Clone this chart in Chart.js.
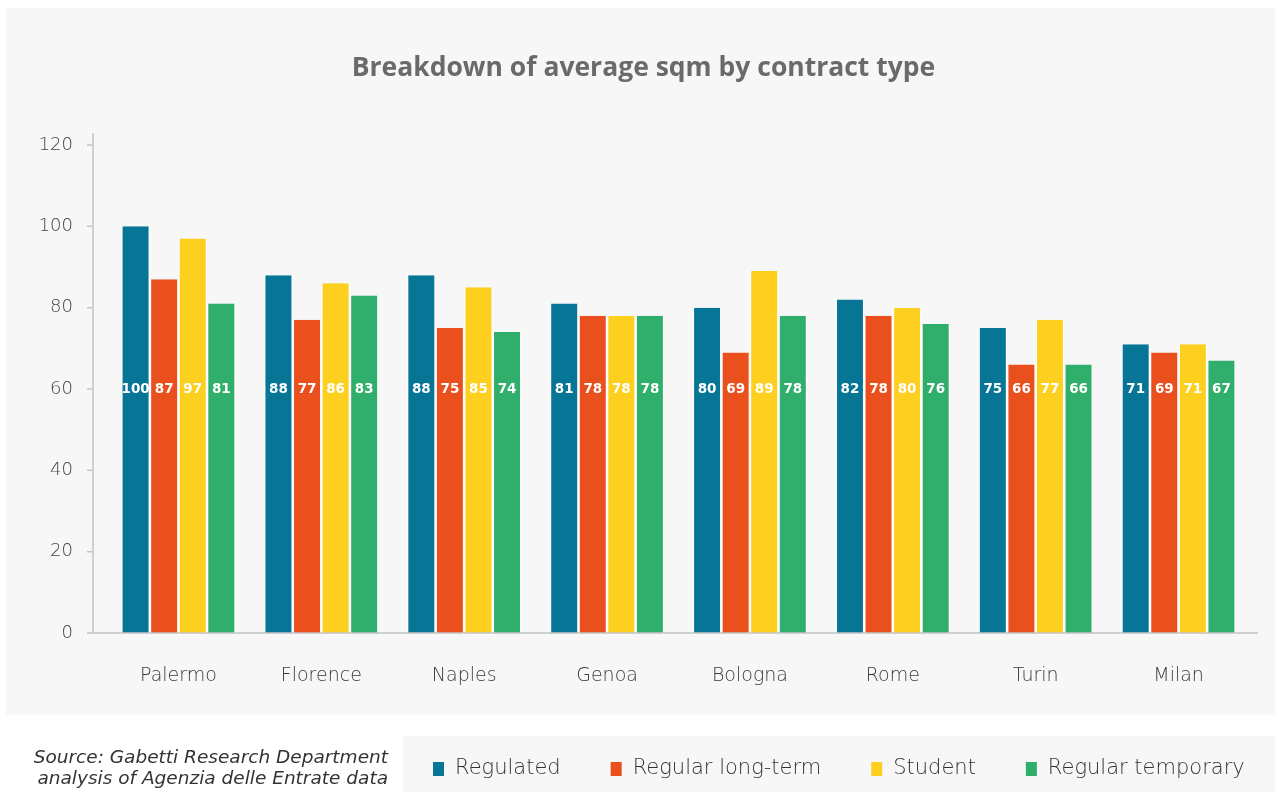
<!DOCTYPE html>
<html>
<head>
<meta charset="utf-8">
<title>Breakdown of average sqm by contract type</title>
<script src="https://cdn.jsdelivr.net/npm/chart.js@4.4.1/dist/chart.umd.min.js"></script>
<style>
  html, body { margin: 0; padding: 0; background: #fff; }
  #wrap { width: 1275px; height: 792px; }
</style>
</head>
<body>
<div id="wrap"><canvas id="myChart" width="1275" height="792"></canvas></div>
<script>
// cities and average sqm per contract type
const cities = ['Palermo', 'Florence', 'Naples', 'Genoa', 'Bologna', 'Rome', 'Turin', 'Milan'];
const regulated = [100, 88, 88, 81, 80, 82, 75, 71];
const longTerm = [87, 77, 75, 78, 69, 78, 66, 69];
const student = [97, 86, 85, 78, 89, 80, 77, 71];
const temporary = [81, 83, 74, 78, 78, 76, 66, 67];
const yTicks = [0, 20, 40, 60, 80, 100, 120];
const chartTitle = 'Breakdown of average sqm by contract type';
const sourceLines = ['Source: Gabetti Research Department', 'analysis of Agenzia delle Entrate data'];

const lightFont = '"DejaVu Sans"';
const axisColor = '#c4c4c4';

// grey panels behind the chart and the legend, plus the title
const panels = {
    id: 'panels',
    beforeDraw(chart) {
        const ctx = chart.ctx;
        ctx.save();
        ctx.fillStyle = '#ffffff';
        ctx.fillRect(0, 0, chart.width, chart.height);
        ctx.fillStyle = '#f7f7f7';
        ctx.fillRect(6, 8, chart.width - 6, 707);
        ctx.fillRect(403, 736, chart.width - 403, chart.height - 736);
        ctx.fillStyle = '#6a6a6a';
        ctx.font = 'bold 26.5px "Open Sans"';
        ctx.textAlign = 'center';
        ctx.textBaseline = 'middle';
        ctx.fillText(chartTitle, (6 + chart.width) / 2 + 3, 68);
        ctx.restore();
    }
};

// axis lines sit a little outside the category band
const axisLines = {
    id: 'axisLines',
    afterDatasetsDraw(chart) {
        const {ctx, chartArea} = chart;
        const y = chart.scales.y;
        const x0 = chartArea.left - 14;
        ctx.save();
        ctx.strokeStyle = axisColor;
        ctx.lineWidth = 1.5;
        ctx.beginPath();
        ctx.moveTo(x0, chartArea.top - 12);
        ctx.lineTo(x0, chartArea.bottom);
        ctx.moveTo(x0, chartArea.bottom);
        ctx.lineTo(chartArea.right + 8, chartArea.bottom);
        y.ticks.forEach(t => {
            const py = y.getPixelForValue(t.value);
            ctx.moveTo(x0 - 6, py);
            ctx.lineTo(x0, py);
        });
        ctx.stroke();
        ctx.restore();
    }
};

// value labels inside every bar, all on the 60 line
const valueLabels = {
    id: 'valueLabels',
    afterDatasetsDraw(chart) {
        const ctx = chart.ctx;
        const py = chart.scales.y.getPixelForValue(60);
        ctx.save();
        ctx.fillStyle = '#ffffff';
        ctx.font = 'bold 13.5px ' + lightFont;
        ctx.textAlign = 'center';
        ctx.textBaseline = 'middle';
        chart.data.datasets.forEach((ds, i) => {
            chart.getDatasetMeta(i).data.forEach((bar, j) => {
                ctx.fillText(String(ds.data[j]), bar.x, py);
            });
        });
        ctx.restore();
    }
};

// legend in its own panel and the source note on the left
const footer = {
    id: 'footer',
    afterDraw(chart) {
        const ctx = chart.ctx;
        ctx.save();
        ctx.textBaseline = 'middle';
        ctx.font = '300 21px ' + lightFont;
        let x = 433;
        chart.data.datasets.forEach(ds => {
            ctx.fillStyle = ds.backgroundColor;
            ctx.fillRect(x, 762, 11, 14);
            ctx.fillStyle = '#333333';
            ctx.textAlign = 'left';
            ctx.fillText(ds.label, x + 22, 769);
            x += 22 + ctx.measureText(ds.label).width + 50;
        });
        ctx.font = 'italic 300 18.5px ' + lightFont;
        ctx.textAlign = 'right';
        ctx.fillStyle = '#333333';
        sourceLines.forEach((line, i) => ctx.fillText(line, 388, 758 + i * 21));
        ctx.restore();
    }
};

const data = {
    labels: cities,
    datasets: [
        {label: 'Regulated', data: regulated, backgroundColor: '#077596'},
        {label: 'Regular long-term', data: longTerm, backgroundColor: '#ea501d'},
        {label: 'Student', data: student, backgroundColor: '#fdcf1e'},
        {label: 'Regular temporary', data: temporary, backgroundColor: '#30ae6b'}
    ].map(ds => Object.assign(ds, {
        borderColor: '#ffffff',
        borderWidth: {left: 1.3, right: 1.3, top: 0, bottom: 0},
        borderSkipped: false,
        categoryPercentage: 0.8,
        barPercentage: 1.0
    }))
};

const config = {
    type: 'bar',
    data: data,
    options: {
        responsive: false,
        animation: false,
        layout: {padding: {left: 0, right: 25, top: 145, bottom: 0}},
        plugins: {
            legend: {display: false},
            tooltip: {enabled: false},
            title: {display: false}
        },
        scales: {
            x: {
                grid: {display: false, drawTicks: false},
                border: {display: false},
                ticks: {
                    padding: 32,
                    color: '#3a3a3a',
                    font: {family: lightFont, size: 19, weight: 300}
                },
                afterFit(scale) { scale.height = 159; }
            },
            y: {
                min: 0,
                max: 120,
                grid: {display: false, drawTicks: false},
                border: {display: false},
                afterBuildTicks(scale) { scale.ticks = yTicks.map(v => ({value: v})); },
                ticks: {
                    padding: 34,
                    color: '#444444',
                    font: {family: lightFont, size: 18, weight: 300}
                },
                afterFit(scale) { scale.width = 107; }
            }
        }
    },
    plugins: [panels, axisLines, valueLabels, footer]
};

const myChart = new Chart(document.getElementById('myChart'), config);
</script>
</body>
</html>
